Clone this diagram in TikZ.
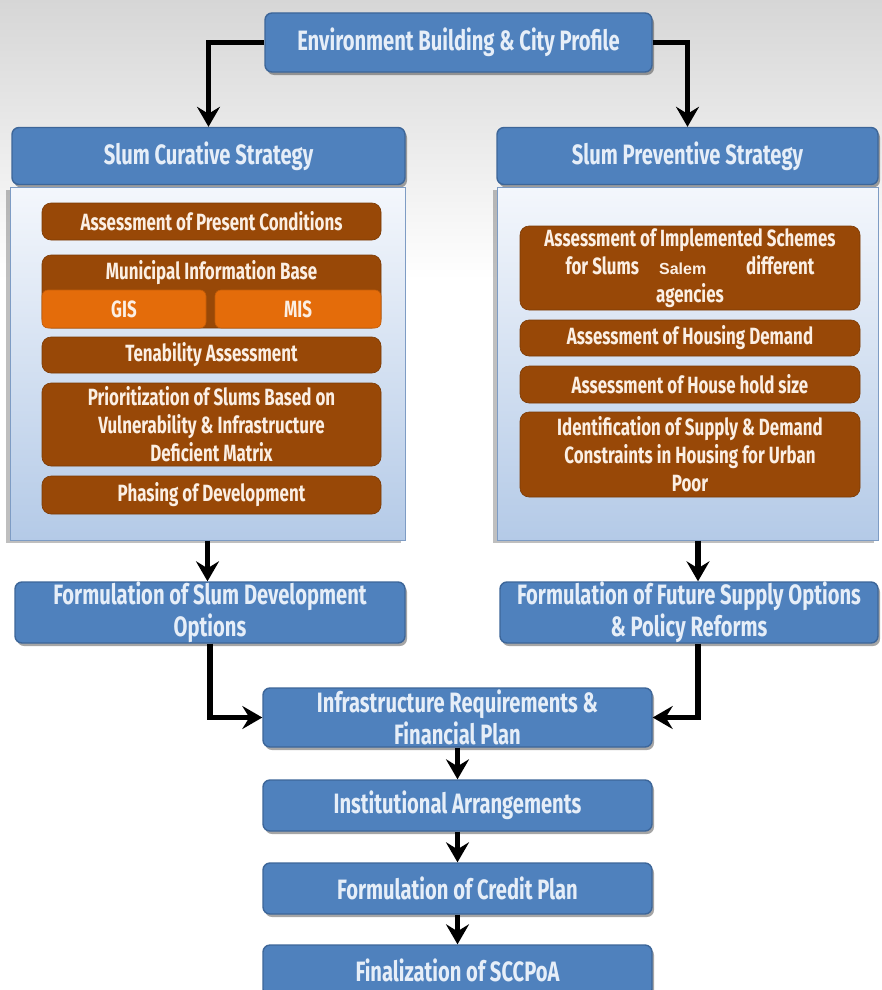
\documentclass[tikz,border=0pt]{standalone}
\usepackage{fontspec}
\newfontfamily\agency{Fira Sans}[FakeStretch=0.72]
\newfontfamily\arialb{Liberation Sans}
\usetikzlibrary{arrows.meta,shadows}

\definecolor{boxblue}{HTML}{4F81BD}
\definecolor{boxedge}{HTML}{3D6699}
\definecolor{boxtext}{HTML}{E6EEF8}
\definecolor{brownfill}{HTML}{984807}
\definecolor{brownedge}{HTML}{7A3A06}
\definecolor{orangefill}{HTML}{E46C0A}
\definecolor{paneltop}{HTML}{F4F7FC}
\definecolor{panelbot}{HTML}{B4CAE7}
\definecolor{paneledge}{HTML}{7E9CC4}
\definecolor{browntext}{HTML}{FBEFE4}

\tikzset{
  bluebox/.style={draw=boxedge, line width=1.4pt, fill=boxblue, rounded corners=7pt,
    text=boxtext, align=center, inner sep=0pt,
    font=\agency\bfseries\fontsize{28}{32}\selectfont,
    drop shadow={shadow xshift=2pt, shadow yshift=-3pt, fill=black, opacity=0.35}},
  panelbox/.style={draw=paneledge, line width=1pt, top color=paneltop, bottom color=panelbot,
    inner sep=0pt,
    drop shadow={shadow xshift=-4pt, shadow yshift=-3pt, fill=black, opacity=0.25}},
  brownbox/.style={draw=brownedge, line width=0.6pt, fill=brownfill, rounded corners=9pt,
    text=browntext, align=center, inner sep=0pt,
    font=\agency\bfseries\fontsize{23.5}{28}\selectfont},
  orangebox/.style={brownbox, draw=orangefill!85!black, fill=orangefill, rounded corners=6pt},
  flow/.style={line width=5.5pt, draw=black,
    -{Stealth[length=20pt, width=23pt, inset=7pt]}},
}

\begin{document}
\begin{tikzpicture}[x=1pt, y=-1pt]
  % page background
  \path[use as bounding box] (0,0) rectangle (882,990);
  \fill[white] (0,0) rectangle (882,990);
  \fill[top color=black!16, bottom color=white] (0,0) rectangle (882,280);

  % top of the chart
  \node[bluebox, minimum width=387, minimum height=59] (env) at (458.5,42.5)
    {Environment Building \& City Profile};

  \node[bluebox, minimum width=393, minimum height=57] (cur) at (208.5,156)
    {Slum Curative Strategy};
  \node[bluebox, minimum width=381, minimum height=57] (pre) at (687.5,156)
    {Slum Preventive Strategy};

  % strategy panels
  \node[panelbox, minimum width=395, minimum height=353] (lpanel) at (207.5,363.5) {};
  \node[panelbox, minimum width=381, minimum height=353] (rpanel) at (687.5,363.5) {};

  % curative steps
  \node[brownbox, minimum width=339, minimum height=37] (apc) at (211.5,221.5)
    {Assessment of Present Conditions};
  \node[brownbox, minimum width=339, minimum height=73] (mib) at (211.5,291.5) {};
  \node[brownbox, fill=none, draw=none, rounded corners=0pt] (mibt) at (211.5,272.5)
    {Municipal Information Base};
  \node[orangebox, minimum width=164, minimum height=38] (gis) at (124,309) {GIS};
  \node[orangebox, minimum width=166, minimum height=38] (mis) at (298,309) {MIS};
  \node[brownbox, minimum width=339, minimum height=36] (ten) at (211.5,355)
    {Tenability Assessment};
  \node[brownbox, minimum width=339, minimum height=83] (pri) at (211.5,424.5)
    {Prioritization of Slums Based on\\Vulnerability \& Infrastructure\\Deficient Matrix};
  \node[brownbox, minimum width=339, minimum height=38] (pha) at (211.5,495)
    {Phasing of Development};

  % preventive steps
  \node[brownbox, minimum width=340, minimum height=84] (ais) at (690,268)
    {Assessment of Implemented Schemes\\for Slums\hspace{20pt}{\arialb\bfseries\fontsize{16}{28}\selectfont Salem}\hspace{40pt}different\\agencies};
  \node[brownbox, minimum width=340, minimum height=36] (ahd) at (690,338)
    {Assessment of Housing Demand};
  \node[brownbox, minimum width=340, minimum height=37] (ahs) at (690,384.5)
    {Assessment of House hold size};
  \node[brownbox, minimum width=340, minimum height=85] (isd) at (690,454.5)
    {Identification of Supply \& Demand\\Constraints in Housing for Urban\\Poor};

  % formulation and plan chain
  \node[bluebox, minimum width=390, minimum height=61] (form1) at (210,612.5)
    {Formulation of Slum Development\\Options};
  \node[bluebox, minimum width=378, minimum height=61] (form2) at (689,612.5)
    {Formulation of Future Supply Options\\\& Policy Reforms};
  \node[bluebox, minimum width=389, minimum height=59] (infra) at (457.5,717.5)
    {Infrastructure Requirements \&\\Financial Plan};
  \node[bluebox, minimum width=389, minimum height=51] (inst) at (457.5,805.5)
    {Institutional Arrangements};
  \node[bluebox, minimum width=389, minimum height=51] (credit) at (457.5,888.5)
    {Formulation of Credit Plan};
  \node[bluebox, minimum width=389, minimum height=51] (final) at (457.5,970.5)
    {Finalization of SCCPoA};

  % connectors
  \coordinate (rdown) at (698,0);
  \draw[flow] (env.west) -| (cur.north);
  \draw[flow] (env.east) -| (pre.north);
  \draw[flow] (lpanel.south) -- (form1.north -| lpanel.south);
  \draw[flow] (rpanel.south -| rdown) -- (form2.north -| rdown);
  \draw[flow] (form1.south) |- (infra.west);
  \draw[flow] (form2.south -| rdown) |- (infra.east);
  \draw[flow] (infra.south) -- (inst.north);
  \draw[flow] (inst.south) -- (credit.north);
  \draw[flow] (credit.south) -- (final.north);
\end{tikzpicture}
\end{document}
